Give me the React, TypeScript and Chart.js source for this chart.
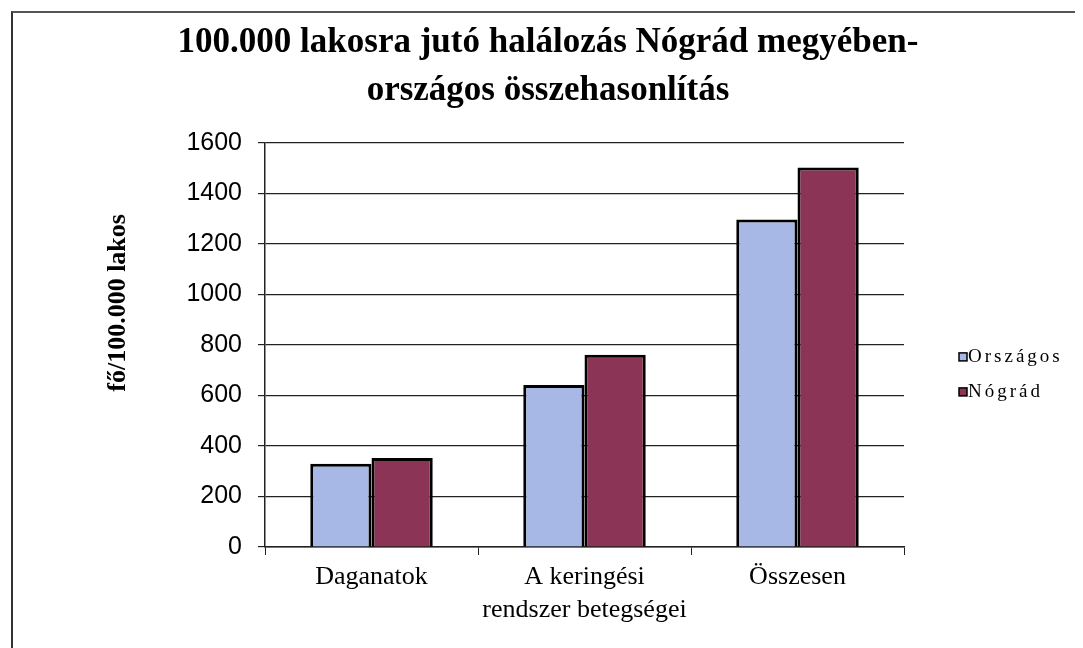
import React, { useEffect, useRef } from "react";
import { Chart, registerables } from "chart.js";

Chart.register(...registerables);

const TITLE_LINES = ["100.000 lakosra jutó halálozás Nógrád megyében-", "országos összehasonlítás"];
const Y_AXIS_TITLE = "fő/100.000 lakos";
const CATEGORIES = ["Daganatok", ["A keringési", "rendszer betegségei"], "Összesen"];
const SERIES_NAMES = ["Országos", "Nógrád"];
const ORSZAGOS = [330, 641, 1297];
const NOGRAD = [352, 761, 1503];
const Y_MIN = 0;
const Y_MAX = 1600;
const Y_STEP = 200;

const COLORS = ["#A7B8E6", "#8C3455"];

const yTitlePlugin = {
  id: "yTitlePlugin",
  afterDraw(chart: any) {
    const { ctx, chartArea } = chart;
    ctx.save();
    ctx.translate(chartArea.left - 147, chartArea.top + 160);
    ctx.rotate(-Math.PI / 2);
    ctx.font = "bold 26px 'Liberation Serif'";
    ctx.textAlign = "center";
    ctx.textBaseline = "middle";
    ctx.fillStyle = "#000";
    ctx.fillText(Y_AXIS_TITLE, 0, 0);
    ctx.restore();
  },
};

const sideLegendPlugin = {
  id: "sideLegendPlugin",
  afterDraw(chart: any) {
    const { ctx, chartArea } = chart;
    ctx.save();
    ctx.font = "19px 'Liberation Serif'";
    try {
      (ctx as any).letterSpacing = "3px";
    } catch (e) {}
    ctx.textBaseline = "middle";
    ctx.textAlign = "left";
    chart.data.datasets.forEach((ds: any, i: number) => {
      const x = chartArea.right + 55;
      const y = chartArea.top + 214 + i * 35;
      ctx.fillStyle = ds.backgroundColor;
      ctx.fillRect(x, y - 4, 8, 8);
      ctx.strokeStyle = "#000";
      ctx.lineWidth = 1.5;
      ctx.strokeRect(x, y - 4, 8, 8);
      ctx.fillStyle = "#000";
      ctx.fillText(ds.label, x + 9, y);
    });
    ctx.restore();
  },
};

export default function App() {
  const canvasRef = useRef<HTMLCanvasElement | null>(null);

  useEffect(() => {
    if (!canvasRef.current) return;
    const chart = new Chart(canvasRef.current, {
      type: "bar",
      data: {
        labels: CATEGORIES as any,
        datasets: [
          {
            label: SERIES_NAMES[0],
            data: ORSZAGOS,
            backgroundColor: COLORS[0],
            borderColor: "#000",
            borderWidth: 3,
            categoryPercentage: 0.575,
            barPercentage: 1,
            yAxisID: "y",
          },
          {
            label: SERIES_NAMES[1],
            data: NOGRAD,
            backgroundColor: COLORS[1],
            borderColor: "#000",
            borderWidth: 3,
            categoryPercentage: 0.575,
            barPercentage: 1,
            yAxisID: "y",
          },
        ],
      },
      options: {
        animation: false,
        responsive: false,
        devicePixelRatio: 1,
        layout: { padding: { left: 0, right: 0, top: 0, bottom: 0 } },
        plugins: {
          legend: { display: false },
          tooltip: { enabled: false },
          title: {
            display: true,
            text: TITLE_LINES,
            color: "#000",
            font: { family: "'Liberation Serif'", size: 35, weight: "bold", lineHeight: 1.37 },
            padding: { top: 6, bottom: 28 },
          },
        },
        scales: {
          x: {
            afterFit(scale: any) {
              scale.height = 101;
            },
            grid: {
              display: true,
              drawOnChartArea: false,
              drawTicks: true,
              tickLength: 8,
              color: "#222",
              offset: true,
            },
            border: { display: true, color: "#222", width: 1.5 },
            ticks: {
              color: "#000",
              font: { family: "'Liberation Serif'", size: 26, lineHeight: 1.25 },
              padding: 6,
              maxRotation: 0,
              autoSkip: false,
            },
          },
          y: {
            min: Y_MIN,
            max: Y_MAX,
            afterFit(scale: any) {
              scale.width = 252;
            },
            grid: {
              color: "#222",
              lineWidth: 1.2,
              drawTicks: true,
              tickLength: 7,
            },
            border: { display: true, color: "#222", width: 1.5 },
            ticks: {
              stepSize: Y_STEP,
              color: "#000",
              font: { family: "'Liberation Sans'", size: 25 },
              padding: 16,
              callback: (v: any) => String(v),
            },
          },
          legendSpace: {
            type: "linear",
            position: "right",
            display: true,
            afterFit(scale: any) {
              scale.width = 179;
            },
            grid: { display: false, drawTicks: false },
            border: { display: false },
            ticks: { display: false },
          },
        },
      },
      plugins: [yTitlePlugin, sideLegendPlugin],
    } as any);
    return () => chart.destroy();
  }, []);

  return (
    <div style={{ position: "relative", width: 1075, height: 640 }}>
      <div
        style={{
          position: "absolute",
          left: 3,
          top: 3,
          width: 1070,
          height: 635,
          borderLeft: "2px solid #333",
          borderTop: "2px solid #555",
        }}
      >
        <canvas ref={canvasRef} width={1070} height={635} style={{ display: "block" }} />
      </div>
    </div>
  );
}
